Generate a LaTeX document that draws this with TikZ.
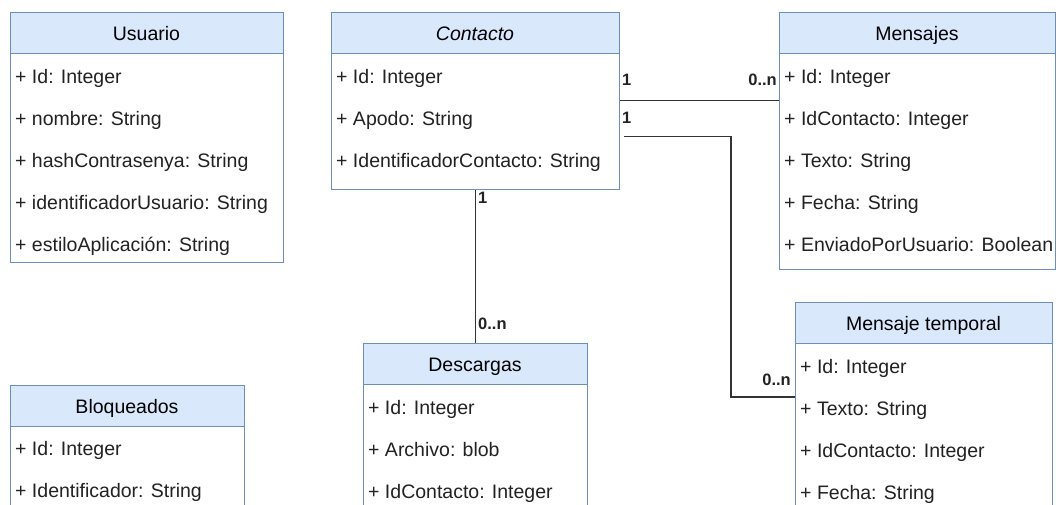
\documentclass[tikz,border=0pt]{standalone}
\usepackage{fontspec}
\setmainfont{Liberation Sans}
\begin{document}
\begin{tikzpicture}[x=1pt,y=-1pt,
  classbox/.style={draw=umlstroke,line width=1.2pt,fill=white,anchor=north west,inner sep=0pt},
  headbox/.style={draw=umlstroke,line width=1.2pt,fill=umlhead,anchor=north west,inner sep=0pt,minimum height=41pt},
  headtext/.style={anchor=base,inner sep=0pt,text=black,font=\fontsize{19.5}{23}\selectfont},
  rowtext/.style={anchor=base west,inner sep=0pt,text=textgray,font=\fontsize{19.5}{23}\selectfont},
  assoc/.style={draw=linegray,line width=1.3pt},
  mult/.style={inner sep=0pt,text=textgray,font=\fontsize{16.5}{19}\selectfont\bfseries}]
\definecolor{umlstroke}{HTML}{6C8EBF}
\definecolor{umlhead}{HTML}{DAE8FC}
\definecolor{textgray}{HTML}{222222}
\definecolor{linegray}{HTML}{333333}

\useasboundingbox (0,0) rectangle (1056,504);
\clip (0,0) rectangle (1056,504);

% ---------- Usuario ----------
\node[classbox,minimum width=273pt,minimum height=250pt] (usuario) at (10,12) {};
\node[headbox,minimum width=273pt] (usuarioH) at (10,12) {};
\node[headtext] (usuarioT) at (146.5,40) {Usuario};
\node[rowtext] (u1) at (15,83) {+ Id: Integer};
\node[rowtext] (u2) at (15,125) {+ nombre: String};
\node[rowtext] (u3) at (15,167) {+ hashContrasenya: String};
\node[rowtext] (u4) at (15,209) {+ identificadorUsuario: String};
\node[rowtext] (u5) at (15,251) {+ estiloAplicación: String};

% ---------- Contacto ----------
\node[classbox,minimum width=288pt,minimum height=177pt] (contacto) at (331,12) {};
\node[headbox,minimum width=288pt] (contactoH) at (331,12) {};
\node[headtext,font=\fontsize{19.5}{23}\selectfont\itshape] (contactoT) at (475,40) {Contacto};
\node[rowtext] (c1) at (336,83) {+ Id: Integer};
\node[rowtext] (c2) at (336,125) {+ Apodo: String};
\node[rowtext] (c3) at (336,167) {+ IdentificadorContacto: String};

% ---------- Mensajes ----------
\node[classbox,minimum width=276pt,minimum height=257pt] (mensajes) at (779,12) {};
\node[headbox,minimum width=276pt] (mensajesH) at (779,12) {};
\node[headtext] (mensajesT) at (917,40) {Mensajes};
\node[rowtext] (m1) at (784,83) {+ Id: Integer};
\node[rowtext] (m2) at (784,125) {+ IdContacto: Integer};
\node[rowtext] (m3) at (784,167) {+ Texto: String};
\node[rowtext] (m4) at (784,209) {+ Fecha: String};
\node[rowtext] (m5) at (784,251) {+ EnviadoPorUsuario: Boolean};

% ---------- Mensaje temporal ----------
\node[classbox,minimum width=257pt,minimum height=212pt] (temporal) at (795,302) {};
\node[headbox,minimum width=257pt] (temporalH) at (795,302) {};
\node[headtext] (temporalT) at (923.5,330) {Mensaje temporal};
\node[rowtext] (t1) at (800,373) {+ Id: Integer};
\node[rowtext] (t2) at (800,415) {+ Texto: String};
\node[rowtext] (t3) at (800,457) {+ IdContacto: Integer};
\node[rowtext] (t4) at (800,499) {+ Fecha: String};

% ---------- Descargas ----------
\node[classbox,minimum width=224pt,minimum height=170pt] (descargas) at (363,343) {};
\node[headbox,minimum width=224pt] (descargasH) at (363,343) {};
\node[headtext] (descargasT) at (475,371) {Descargas};
\node[rowtext] (d1) at (368,414) {+ Id: Integer};
\node[rowtext] (d2) at (368,456) {+ Archivo: blob};
\node[rowtext] (d3) at (368,498) {+ IdContacto: Integer};

% ---------- Bloqueados ----------
\node[classbox,minimum width=234pt,minimum height=130pt] (bloqueados) at (10,385) {};
\node[headbox,minimum width=234pt] (bloqueadosH) at (10,385) {};
\node[headtext] (bloqueadosT) at (127,413) {Bloqueados};
\node[rowtext] (b1) at (15,455) {+ Id: Integer};
\node[rowtext] (b2) at (15,497) {+ Identificador: String};

% ---------- Associations ----------
\coordinate (rowA) at (0,100.5);
\coordinate (rowB) at (624,136.5);
\coordinate (bend) at (731,397);

\draw[assoc] (contacto.east |- rowA) -- (mensajes.west |- rowA);
\draw[assoc] (rowB) -| (bend) -- (temporal.west |- bend);
\draw[assoc] (contacto.south) -- (descargas.north);

% multiplicities
\node[mult,anchor=base west] (mA1) at (622,85) {1};
\node[mult,anchor=base east] (mAn) at (777,85) {0..n};
\node[mult,anchor=base west] (mB1) at (622,123) {1};
\node[mult,anchor=base east] (mBn) at (791,385) {0..n};
\node[mult,anchor=base west] (mC1) at (478,203) {1};
\node[mult,anchor=base west] (mCn) at (478,329) {0..n};
\end{tikzpicture}
\end{document}
